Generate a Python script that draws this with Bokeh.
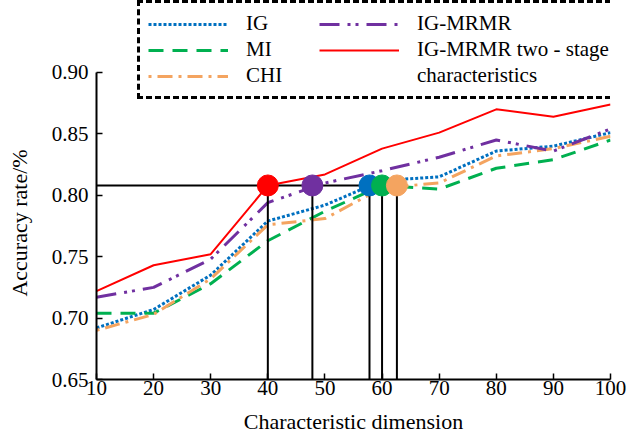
from bokeh.plotting import figure
from bokeh.models import Range1d, FixedTicker, Legend, LegendItem
from bokeh.embed import file_html
from bokeh.resources import INLINE

# ---- data ----
x_dim = [10, 20, 30, 40, 50, 60, 70, 80, 90, 100]
ig = [0.692, 0.707, 0.735, 0.779, 0.792, 0.812, 0.815, 0.836, 0.840, 0.851]
mi = [0.704, 0.704, 0.728, 0.763, 0.787, 0.808, 0.805, 0.822, 0.829, 0.845]
chi = [0.690, 0.703, 0.732, 0.776, 0.781, 0.806, 0.810, 0.832, 0.838, 0.848]
ig_mrmr = [0.717, 0.725, 0.748, 0.794, 0.810, 0.820, 0.831, 0.845, 0.836, 0.854]
two_stage = [0.722, 0.743, 0.752, 0.808, 0.817, 0.838, 0.851, 0.870, 0.864, 0.874]

# points where each method first reaches the reference accuracy
marker_x = [40.0, 47.8, 57.8, 60.0, 62.6]
marker_y = [0.808, 0.808, 0.808, 0.808, 0.808]
marker_colors = ["#FF0000", "#7030A0", "#0070C0", "#00B050", "#F4A460"]

x_ticks = [10, 20, 30, 40, 50, 60, 70, 80, 90, 100]
y_ticks = [0.65, 0.70, 0.75, 0.80, 0.85, 0.90]
y_tick_labels = ["0.65", "0.70", "0.75", "0.80", "0.85", "0.90"]

FONT = "Liberation Serif"

# y range extends above 0.90 to leave room for the legend; the axis stops at 0.90
p = figure(width=632, height=443, output_backend="svg", toolbar_location=None,
           x_range=Range1d(10, 100), y_range=Range1d(0.65, 0.9586),
           min_border_left=96, min_border_right=22, min_border_top=0,
           min_border_bottom=64)
p.outline_line_color = None
p.grid.visible = False

for ax in (p.xaxis[0], p.yaxis[0]):
    ax.axis_line_color = "black"
    ax.axis_line_width = 2
    ax.major_tick_line_color = "black"
    ax.major_tick_line_width = 1.5
    ax.major_tick_in = 6
    ax.major_tick_out = 0
    ax.minor_tick_line_color = None
    ax.major_label_text_font = FONT
    ax.major_label_text_font_size = "21px"
    ax.major_label_text_color = "black"
    ax.axis_label_text_font = FONT
    ax.axis_label_text_font_size = "22px"
    ax.axis_label_text_font_style = "normal"
    ax.axis_label_text_color = "black"

p.xaxis.ticker = FixedTicker(ticks=x_ticks)
p.xaxis.axis_label = "Characteristic dimension"
p.xaxis.major_label_standoff = 1
p.xaxis.axis_label_standoff = 11

p.yaxis.ticker = FixedTicker(ticks=y_ticks)
p.yaxis.bounds = (y_ticks[0], y_ticks[-1])
p.yaxis.major_label_overrides = {t: s for t, s in zip(y_ticks, y_tick_labels)}
p.yaxis.major_label_standoff = 8
# trailing no-break spaces keep the title centred on the 0.65-0.90 axis
p.yaxis.axis_label = "Accuracy rate/%" + "\u00a0" * 12
p.yaxis.axis_label_standoff = 17

r_ig = p.line(x_dim, ig, line_color="#0070C0", line_width=3, line_dash="3 2")
r_mi = p.line(x_dim, mi, line_color="#00B050", line_width=3, line_dash="15 9")
r_chi = p.line(x_dim, chi, line_color="#F4A460", line_width=3, line_dash="3 6 15 6")
r_mrmr = p.line(x_dim, ig_mrmr, line_color="#7030A0", line_width=3,
                line_dash="20 8 3 5 3 8")
r_two = p.line(x_dim, two_stage, line_color="#FF0000", line_width=2)

# reference lines
p.segment(x0=[x_ticks[0]], y0=[marker_y[2]], x1=[marker_x[2]], y1=[marker_y[2]],
          line_color="black", line_width=2)
p.segment(x0=marker_x, y0=[y_ticks[0]] * len(marker_x), x1=marker_x, y1=marker_y,
          line_color="black", line_width=2)
p.scatter(marker_x, marker_y, size=21, fill_color=marker_colors,
          line_color=marker_colors)

legend = Legend(items=[
    LegendItem(label="IG", renderers=[r_ig]),
    LegendItem(label="MI", renderers=[r_mi]),
    LegendItem(label="CHI", renderers=[r_chi]),
    LegendItem(label="IG-MRMR", renderers=[r_mrmr]),
    LegendItem(label="IG-MRMR two - stage", renderers=[r_two]),
    LegendItem(label="characteristics", renderers=[]),
], ncols=2, location=(41, 280))
legend.border_line_color = "black"
legend.border_line_alpha = 1.0
legend.border_line_dash = "2 2"
legend.border_line_width = 3
legend.background_fill_alpha = 1
legend.label_text_font = FONT
legend.label_text_font_size = "21px"
legend.label_text_color = "black"
legend.glyph_width = 80
legend.glyph_height = 20
legend.label_standoff = 18
legend.label_width = 72
legend.label_height = 20
legend.spacing = 1
legend.padding = 8
legend.margin = 0
p.add_layout(legend)

open("out.html", "w").write(file_html(p, INLINE))
